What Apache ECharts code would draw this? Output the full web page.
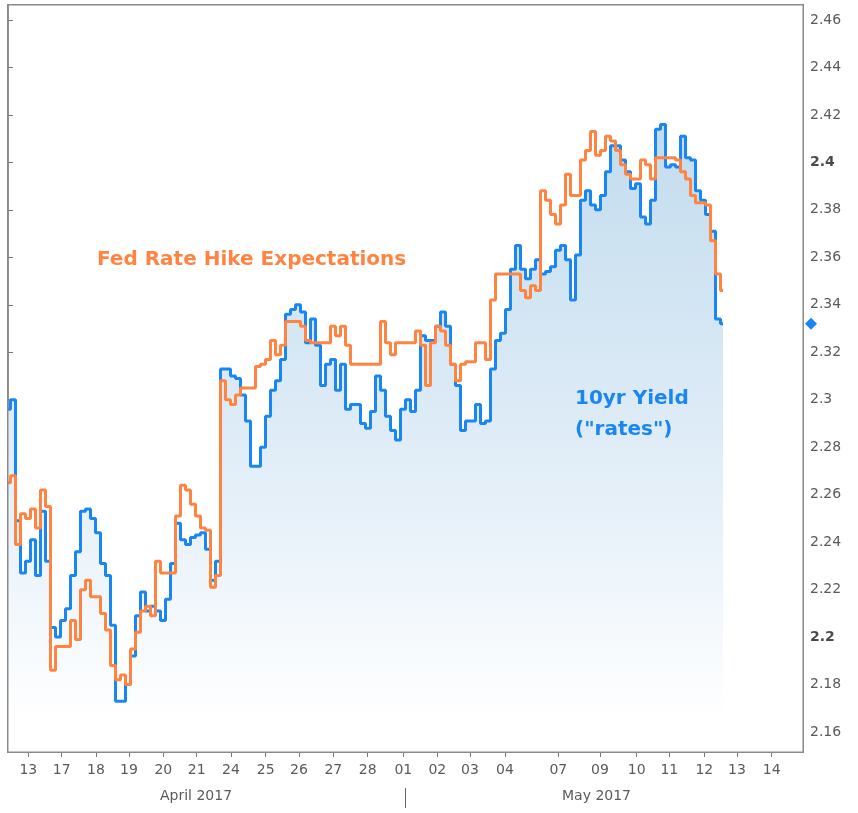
<!DOCTYPE html>
<html lang="en">
<head>
    <meta charset="UTF-8">
    <title>10yr Yield vs Fed Rate Hike Expectations</title>
    <script src="https://cdn.jsdelivr.net/npm/echarts@6.0.0/dist/echarts.min.js"></script>
</head>
<style>
    html, body { margin: 0; padding: 0; background: #fff; }
    #main { width: 858px; height: 813px; }
</style>
<body>
<div id="main"></div>
<script type="text/javascript">
    // one sample every ~0.15 trading day, index 0..143
    var yieldVals = [
        2.296, 2.300, 2.249, 2.227, 2.232, 2.241, 2.226, 2.253, 2.232, 2.204,
        2.200, 2.207, 2.212, 2.226, 2.236, 2.253, 2.254, 2.250, 2.244, 2.231,
        2.226, 2.205, 2.173, 2.173, 2.180, 2.192, 2.209, 2.219, 2.211, 2.213,
        2.211, 2.207, 2.216, 2.231, 2.248, 2.241, 2.239, 2.242, 2.243, 2.244,
        2.237, 2.224, 2.232, 2.313, 2.313, 2.310, 2.309, 2.302, 2.291, 2.272,
        2.272, 2.280, 2.293, 2.304, 2.308, 2.317, 2.336, 2.338, 2.340, 2.337,
        2.324, 2.334, 2.323, 2.306, 2.315, 2.317, 2.304, 2.315, 2.296, 2.298,
        2.298, 2.290, 2.288, 2.295, 2.310, 2.304, 2.293, 2.287, 2.283, 2.296,
        2.300, 2.295, 2.304, 2.327, 2.325, 2.325, 2.331, 2.337, 2.331, 2.315,
        2.306, 2.287, 2.291, 2.291, 2.298, 2.290, 2.291, 2.313, 2.325, 2.328,
        2.338, 2.355, 2.365, 2.355, 2.351, 2.355, 2.359, 2.353, 2.354, 2.356,
        2.363, 2.365, 2.359, 2.342, 2.361, 2.384, 2.388, 2.382, 2.380, 2.386,
        2.396, 2.407, 2.407, 2.401, 2.396, 2.389, 2.391, 2.377, 2.374, 2.384,
        2.414, 2.416, 2.398, 2.399, 2.398, 2.411, 2.402, 2.401, 2.388, 2.384,
        2.378, 2.371, 2.334, 2.332
    ];
    var fedVals = [
        2.265, 2.268, 2.239, 2.252, 2.250, 2.254, 2.246, 2.262, 2.255, 2.186,
        2.196, 2.196, 2.196, 2.207, 2.199, 2.220, 2.224, 2.217, 2.217, 2.210,
        2.203, 2.188, 2.182, 2.184, 2.180, 2.195, 2.202, 2.211, 2.213, 2.209,
        2.232, 2.227, 2.227, 2.227, 2.251, 2.264, 2.262, 2.256, 2.251, 2.246,
        2.245, 2.221, 2.226, 2.308, 2.300, 2.298, 2.302, 2.305, 2.305, 2.305,
        2.314, 2.315, 2.317, 2.325, 2.319, 2.323, 2.333, 2.333, 2.333, 2.331,
        2.325, 2.324, 2.324, 2.324, 2.324, 2.331, 2.327, 2.331, 2.323, 2.315,
        2.315, 2.315, 2.315, 2.315, 2.315, 2.333, 2.324, 2.319, 2.324, 2.324,
        2.324, 2.324, 2.329, 2.323, 2.306, 2.324, 2.331, 2.329, 2.323, 2.315,
        2.308, 2.315, 2.316, 2.316, 2.324, 2.324, 2.317, 2.342, 2.353, 2.353,
        2.353, 2.353, 2.353, 2.346, 2.343, 2.348, 2.346, 2.388, 2.384, 2.378,
        2.374, 2.382, 2.395, 2.386, 2.386, 2.401, 2.405, 2.413, 2.403, 2.405,
        2.411, 2.409, 2.405, 2.399, 2.395, 2.393, 2.393, 2.401, 2.399, 2.393,
        2.402, 2.402, 2.402, 2.402, 2.401, 2.396, 2.393, 2.386, 2.383, 2.383,
        2.382, 2.367, 2.353, 2.346
    ];

    // day ticks (position on the sample index axis) and their labels
    var dayTickPos = [4.06, 10.74, 17.6, 24.2, 31.06, 37.74, 44.6, 51.54, 58.2, 65.06, 71.94,
        79.06, 85.86, 92.4, 99.4, 110.06, 118.4, 125.74, 132.26, 139.26, 145.8, 152.74];
    var dayLabels = ['13', '17', '18', '19', '20', '21', '24', '25', '26', '27', '28',
        '01', '02', '03', '04', '07', '09', '10', '11', '12', '13', '14'];
    var yTicks = [2.16, 2.18, 2.2, 2.22, 2.24, 2.26, 2.28, 2.3, 2.32, 2.34, 2.36, 2.38, 2.4, 2.42, 2.44, 2.46];
    var boldTicks = [2.2, 2.4];

    var blue = '#1a86f2';
    var orange = '#ff8442';
    var font = 'DejaVu Sans';

    var myChart = echarts.init(document.getElementById('main'), null, {renderer: 'canvas'});

    function pairs(arr) {
        var out = [];
        for (var i = 0; i < arr.length; i++) out.push([i, arr[i]]);
        return out;
    }

    var option = {
        backgroundColor: '#fff',
        animation: false,
        grid: {left: 8, right: 55, top: 5, bottom: 61},
        xAxis: {
            type: 'value',
            min: 0,
            max: 159,
            axisLine: {show: false},
            splitLine: {show: false},
            axisTick: {show: true, customValues: dayTickPos, length: 5, lineStyle: {color: '#777'}},
            axisLabel: {
                customValues: dayTickPos,
                margin: 11,
                color: '#5a5a5a',
                fontFamily: font,
                fontSize: 14,
                formatter: function (v) {
                    for (var i = 0; i < dayTickPos.length; i++) {
                        if (Math.abs(dayTickPos[i] - v) < 0.01) return dayLabels[i];
                    }
                    return '';
                }
            }
        },
        yAxis: {
            type: 'value',
            position: 'right',
            min: 2.1516,
            max: 2.4663,
            axisLine: {show: true, lineStyle: {color: '#777', width: 1.5}},
            splitLine: {show: false},
            axisTick: {show: true, customValues: yTicks, length: 5, lineStyle: {color: '#777'}},
            axisLabel: {
                customValues: yTicks,
                margin: 7,
                color: '#5a5a5a',
                fontFamily: font,
                fontSize: 14,
                formatter: function (v) {
                    var s = String(Math.round(v * 100) / 100);
                    for (var i = 0; i < boldTicks.length; i++) {
                        if (Math.abs(boldTicks[i] - v) < 0.001) return '{b|' + s + '}';
                    }
                    return s;
                },
                rich: {
                    b: {fontWeight: 'bold', color: '#4a4a4a', fontFamily: font, fontSize: 14}
                }
            }
        },
        series: [
            {
                name: '10yr Yield',
                type: 'line',
                data: pairs(yieldVals),
                showSymbol: false,
                step: 'middle',
                lineStyle: {color: blue, width: 3},
                areaStyle: {
                    opacity: 1,
                    color: new echarts.graphic.LinearGradient(0, 0, 0, 1, [
                        {offset: 0, color: '#c2dcee'},
                        {offset: 0.55, color: '#e2eef8'},
                        {offset: 0.95, color: '#ffffff'},
                        {offset: 1, color: '#ffffff'}
                    ])
                },
                z: 2
            },
            {
                name: 'Fed Rate Hike Expectations',
                type: 'line',
                data: pairs(fedVals),
                showSymbol: false,
                step: 'middle',
                lineStyle: {color: orange, width: 3},
                z: 3
            }
        ],
        graphic: [
            // plot frame, drawn above the area fill
            {
                type: 'rect', z: 100, silent: true,
                shape: {x: 7.75, y: 4.75, width: 795.5, height: 747.5},
                style: {fill: null, stroke: '#8a8a8a', lineWidth: 1.5}
            },
            {
                type: 'text', left: 97, top: 250, z: 100,
                style: {text: 'Fed Rate Hike Expectations', fill: orange, font: 'bold 20px "DejaVu Sans"'}
            },
            {
                type: 'text', left: 575, top: 383, z: 100,
                style: {text: '10yr Yield\n("rates")', fill: blue, font: 'bold 20px "DejaVu Sans"',
                    align: 'center', lineHeight: 31, x: 58}
            },
            // month captions under the day labels
            {
                type: 'text', left: 160, top: 789, z: 100,
                style: {text: 'April 2017', fill: '#5a5a5a', font: '14px "DejaVu Sans"'}
            },
            {
                type: 'text', left: 562, top: 789, z: 100,
                style: {text: 'May 2017', fill: '#5a5a5a', font: '14px "DejaVu Sans"'}
            },
            {
                type: 'line', z: 100, shape: {x1: 405.5, y1: 788, x2: 405.5, y2: 808},
                style: {stroke: '#666', lineWidth: 1}
            }
        ]
    };

    myChart.setOption(option);

    // last value marker on the right axis
    var lastY = myChart.convertToPixel({yAxisIndex: 0}, yieldVals[yieldVals.length - 1]);
    myChart.setOption({
        graphic: option.graphic.concat([{
            type: 'polygon', z: 100,
            shape: {points: [[811, lastY - 6], [817, lastY], [811, lastY + 6], [805, lastY]]},
            style: {fill: blue}
        }])
    });
</script>
</body>
</html>
